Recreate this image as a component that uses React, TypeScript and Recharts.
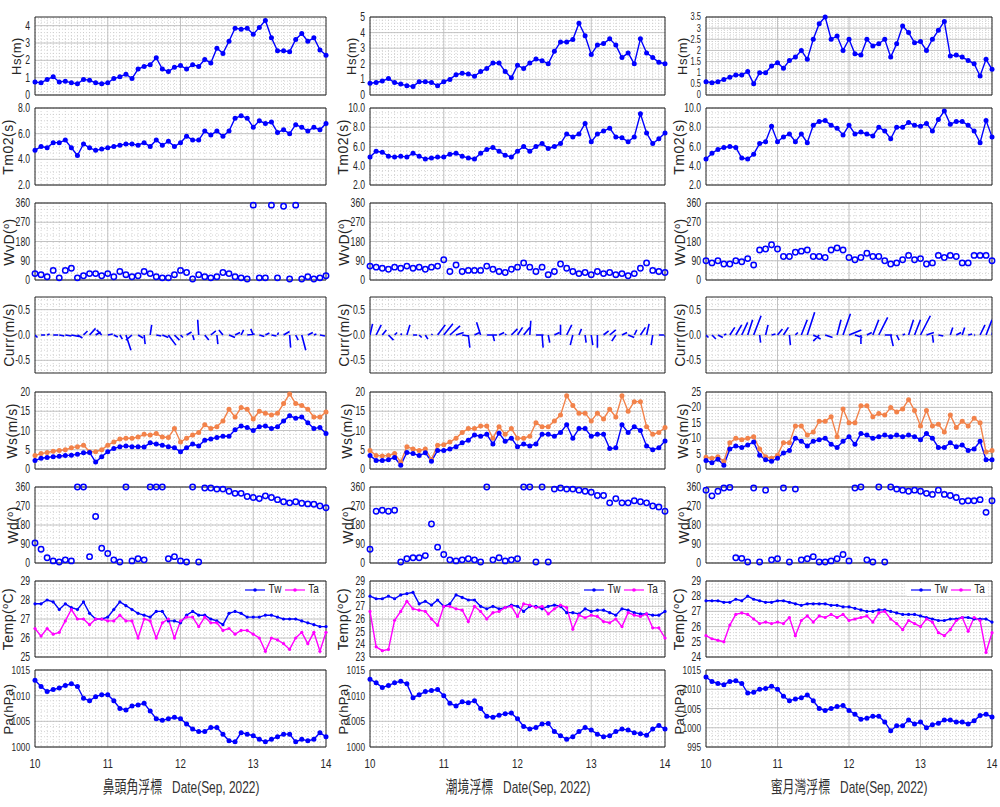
import React from 'react';
import { LineChart, Line, XAxis, YAxis, CartesianGrid, ReferenceArea } from 'recharts';

// time base: every 2 hours, 10 Sep 00:00 -> 14 Sep 00:00
const TIMES = Array.from({ length: 49 }, (_, i) => 10 + i / 12);
const DAY_TICKS = [10, 11, 12, 13, 14];

// 鼻頭角浮標
const hs1 = [0.75, 0.7, 0.9, 1.05, 0.75, 0.8, 0.7, 0.65, 0.9, 0.85, 0.7, 0.65, 0.7, 0.95, 1.05, 1.2, 0.95, 1.5, 1.65, 1.75, 2.15, 1.5, 1.35, 1.6, 1.7, 1.5, 1.75, 1.65, 2.05, 1.85, 2.7, 2.4, 3.1, 3.85, 3.8, 3.85, 3.5, 3.9, 4.3, 3.3, 2.55, 2.55, 2.5, 3.2, 3.55, 3.1, 3.3, 2.6, 2.3];
const tm1 = [4.7, 5.0, 4.9, 5.3, 5.3, 5.5, 4.9, 4.3, 5.2, 4.9, 4.7, 4.8, 4.9, 5.0, 5.1, 5.2, 5.2, 5.1, 5.3, 5.0, 5.5, 5.1, 5.4, 5.0, 5.3, 5.8, 5.5, 5.5, 6.2, 5.9, 6.2, 5.8, 6.2, 7.2, 7.4, 7.2, 6.5, 7.0, 6.8, 6.9, 6.1, 6.3, 6.0, 6.7, 6.5, 6.2, 6.5, 6.3, 6.8];
const wvd1 = [30, 25, 15, 45, 10, 45, 55, 10, 20, 30, 30, 20, 30, 15, 40, 25, 15, 20, 40, 30, 15, 10, 10, 25, 45, 35, 5, 25, 15, 10, 15, 35, 30, 15, 10, 5, 350, 10, 10, 350, 10, 345, 5, 350, 5, 15, 5, 10, 20];
const cu1 = [0.05, 0.08, 0.05, 0.1, 0.1, 0.12, 0.15, 0.1, 0.08, 0.12, 0.1, -0.1, 0.1, 0.08, 0.05, 0.1, -0.12, 0.1, 0.02, 0.03, 0.1, 0.12, 0.15, 0.1, 0.05, 0.1, 0.03, -0.02, 0.08, 0.1, 0.02, -0.08, 0.12, 0.1, 0.05, 0.15, -0.05, 0.1, 0.08, 0.1, 0.02, 0.12, 0.02, 0.05, 0.08, 0.1, 0.05, 0.1, 0.05];
const cv1 = [-0.05, 0, 0.02, 0, -0.02, -0.02, -0.03, -0.06, 0.08, 0.13, 0.06, 0.1, 0.02, -0.04, -0.08, -0.3, -0.1, -0.06, -0.18, 0.2, -0.02, -0.05, -0.2, -0.1, -0.05, 0.06, -0.1, 0.3, -0.1, 0.08, -0.18, 0.1, -0.05, 0.05, 0.1, 0.02, 0.12, -0.03, 0.04, -0.02, 0.05, 0.07, -0.25, -0.1, -0.3, 0.05, 0.02, -0.02, 0];
const ws1 = [2.2, 2.8, 3.0, 3.2, 3.3, 3.5, 3.6, 3.8, 4.2, 4.3, 1.8, 3.2, 4.5, 5.3, 5.8, 6.0, 5.8, 5.8, 5.7, 6.8, 6.5, 6.2, 5.8, 5.5, 4.5, 5.5, 6.5, 6.0, 7.5, 7.8, 8.2, 8.5, 8.5, 10.2, 11.2, 10.8, 10.0, 11.0, 11.2, 10.5, 11.0, 12.5, 13.8, 13.2, 13.5, 12.0, 10.5, 10.8, 9.2];
const wg1 = [3.5, 4.0, 4.3, 4.6, 4.8, 5.0, 5.5, 5.8, 6.2, 4.5, 4.5, 5.0, 6.2, 7.0, 7.8, 8.0, 8.0, 8.3, 9.0, 8.8, 9.2, 8.3, 8.2, 10.5, 7.0, 8.0, 8.8, 9.5, 11.5, 10.5, 11.0, 12.5, 15.5, 13.5, 16.0, 15.5, 13.0, 15.0, 14.5, 14.0, 14.5, 17.0, 19.5, 17.0, 16.5, 15.5, 13.5, 13.5, 14.8];
const wd1 = [95, 65, 25, 10, 5, 15, 10, 360, 360, 30, 220, 70, 45, 15, 5, 360, 10, 20, 15, 360, 360, 360, 20, 30, 10, 5, 360, 5, 355, 355, 350, 350, 340, 330, 330, 315, 310, 305, 318, 310, 300, 290, 285, 290, 283, 280, 278, 270, 262];
const tw1 = [27.8, 27.8, 28.0, 27.9, 27.5, 27.8, 27.6, 27.5, 27.9, 27.3, 27.0, 27.0, 27.1, 27.5, 27.9, 27.7, 27.5, 27.3, 27.2, 27.1, 27.4, 27.4, 26.9, 26.9, 26.8, 27.2, 27.4, 27.2, 27.2, 27.0, 26.9, 26.7, 27.3, 27.4, 27.3, 27.1, 27.1, 27.1, 27.2, 27.2, 27.1, 27.0, 27.0, 27.0, 26.9, 26.8, 26.7, 26.6, 26.6];
const ta1 = [26.5, 26.1, 26.5, 26.2, 26.3, 26.9, 27.5, 27.0, 27.0, 26.7, 27.0, 27.0, 26.9, 26.9, 27.2, 26.9, 26.9, 26.0, 27.0, 26.9, 26.0, 26.8, 27.0, 26.0, 26.9, 27.1, 27.1, 26.6, 27.1, 26.8, 26.8, 26.4, 26.5, 26.2, 26.4, 26.4, 26.2, 26.0, 25.3, 26.0, 25.9, 25.7, 25.4, 26.0, 26.3, 25.7, 26.3, 25.3, 26.3];
const pa1 = [1013, 1011.8, 1010.8, 1011.2, 1011.5, 1012, 1012.3, 1011.8, 1009.5, 1009, 1009.8, 1010.2, 1010.2, 1009, 1007.5, 1007.2, 1008, 1008.2, 1008.5, 1007, 1005.5, 1005.2, 1005.5, 1005.8, 1005.5, 1004.5, 1003.5, 1003, 1003, 1003.8, 1003.8, 1002.5, 1001.2, 1001, 1002.8, 1002.5, 1002.2, 1001.5, 1001, 1001.5, 1002, 1002.5, 1002.5, 1001, 1001.5, 1001.2, 1001.5, 1002.8, 1002];

// 潮境浮標
const hs2 = [0.75, 0.8, 0.9, 1.05, 0.8, 0.7, 0.6, 0.55, 0.85, 0.85, 0.8, 0.6, 0.85, 1.0, 1.3, 1.4, 1.35, 1.2, 1.5, 1.7, 2.05, 2.05, 1.5, 1.1, 1.9, 1.7, 2.05, 2.3, 2.2, 2.0, 2.8, 3.4, 3.4, 3.55, 4.6, 3.8, 2.6, 3.2, 3.3, 3.6, 3.2, 2.4, 2.7, 2.0, 3.6, 2.7, 2.4, 2.1, 2.0];
const tm2 = [4.9, 5.5, 5.4, 5.0, 4.9, 5.0, 4.9, 5.3, 5.0, 4.7, 4.8, 4.9, 4.9, 5.2, 5.3, 5.0, 4.8, 4.7, 5.3, 5.7, 5.9, 5.5, 5.1, 4.9, 5.5, 6.0, 5.5, 6.0, 6.3, 5.8, 6.0, 6.3, 7.3, 7.0, 7.3, 8.4, 6.5, 7.3, 7.6, 7.9, 7.0, 6.9, 6.5, 7.0, 9.4, 7.4, 6.3, 6.8, 7.4];
const wvd2 = [65, 60, 55, 50, 60, 55, 65, 55, 60, 50, 60, 65, 95, 40, 70, 40, 45, 45, 45, 65, 50, 40, 35, 50, 60, 80, 60, 40, 60, 25, 40, 75, 55, 40, 30, 35, 25, 40, 30, 35, 25, 30, 20, 30, 55, 80, 45, 40, 35];
const cu2 = [0.05, 0.1, 0.08, 0.1, 0.05, 0.02, 0.06, 0.08, 0.05, 0.05, 0.02, 0.15, 0.18, 0.2, 0.15, 0.12, 0.03, 0.1, -0.08, 0.2, 0.03, 0.1, 0.02, 0.12, 0.1, 0.12, 0.02, 0.15, 0.02, 0.03, 0.1, 0, 0.1, -0.05, 0.05, 0.02, 0.03, 0, 0.1, 0.12, -0.08, 0.1, 0.12, 0.05, 0.1, 0.05, -0.03, 0.1, 0.03];
const cv2 = [0.22, 0.2, 0.1, -0.1, 0.05, 0.03, 0.2, 0, -0.05, -0.08, 0.02, 0.2, 0.22, 0.18, 0.05, -0.02, -0.25, 0.05, 0.25, 0, -0.12, 0.05, 0.02, 0.12, 0.15, 0.15, 0.28, 0, -0.25, -0.15, 0.05, 0.2, 0.2, -0.2, 0.12, -0.15, -0.2, -0.25, 0.08, 0.1, -0.12, 0.05, -0.05, 0.1, 0.15, 0.22, -0.2, 0, -0.12];
const ws2 = [3.5, 2.2, 2.2, 2.4, 3.0, 1.0, 4.3, 4.0, 3.5, 4.2, 2.0, 4.8, 4.8, 5.2, 5.8, 6.8, 7.5, 8.8, 8.5, 9.0, 6.5, 9.3, 7.2, 8.0, 5.8, 6.5, 6.0, 6.5, 9.0, 9.0, 8.5, 9.5, 11.5, 8.0, 10.5, 10.5, 8.5, 9.0, 9.0, 5.3, 5.5, 11.5, 9.5, 11.0, 10.0, 6.0, 5.0, 5.5, 7.3];
const wg2 = [4.8, 3.5, 3.4, 3.5, 4.0, 1.8, 5.8, 5.2, 4.8, 5.2, 2.5, 6.2, 6.3, 7.0, 8.0, 9.5, 10.5, 10.5, 11.2, 11.2, 8.0, 11.0, 9.0, 10.5, 8.0, 8.0, 8.5, 12.0, 11.0, 11.0, 12.5, 14.0, 19.0, 16.5, 14.5, 14.5, 12.5, 14.5, 13.0, 15.5, 13.5, 19.0, 15.0, 17.5, 17.5, 11.0, 9.0, 9.5, 10.8];
const wd2 = [65, 245, 250, 245, 250, 5, 20, 25, 25, 35, 185, 75, 40, 15, 10, 15, 20, 15, 5, 360, 15, 25, 10, 15, 20, 360, 360, 5, 360, 5, 350, 355, 350, 350, 345, 340, 335, 320, 320, 285, 305, 285, 285, 295, 290, 285, 270, 265, 245];
const tw2 = [27.8, 27.6, 27.6, 27.8, 27.6, 27.9, 28.0, 28.1, 27.2, 27.4, 27.1, 27.5, 27.0, 27.2, 27.9, 27.7, 27.5, 27.5, 27.0, 26.8, 27.0, 26.8, 26.9, 27.1, 27.0, 26.6, 27.0, 27.0, 26.8, 27.0, 27.1, 27.0, 26.5, 26.5, 26.4, 26.8, 26.6, 26.7, 26.7, 26.5, 26.3, 26.8, 26.7, 26.5, 26.4, 26.4, 26.3, 26.3, 26.6];
const ta2 = [26.6, 23.8, 23.5, 23.6, 25.9, 26.6, 27.4, 26.8, 26.7, 26.6, 26.0, 25.5, 27.0, 27.0, 26.8, 26.7, 25.8, 27.0, 26.6, 26.0, 26.5, 26.6, 26.9, 27.0, 26.2, 27.2, 27.1, 26.9, 27.0, 26.4, 26.8, 27.1, 26.9, 25.2, 26.3, 26.1, 26.3, 26.2, 25.8, 25.7, 26.0, 25.4, 26.5, 26.3, 26.2, 26.4, 25.3, 25.3, 24.5];
const pa2 = [1013.2, 1012.5, 1011.6, 1012, 1012.5, 1012.8, 1012.3, 1009.6, 1010.2, 1010.8, 1011, 1011.2, 1010, 1008.5, 1008, 1008.8, 1008.6, 1009, 1007.5, 1006, 1005.8, 1006.2, 1006.5, 1006.6, 1005.5, 1004, 1003.5, 1003.8, 1004.5, 1004.6, 1003, 1002.2, 1001.5, 1002, 1003, 1003.8, 1003.3, 1002.5, 1002, 1002.2, 1003, 1003.5, 1003.3, 1002.8, 1002.6, 1002.3, 1003.5, 1004.2, 1003.5];

// 蜜月灣浮標
const hs3 = [0.6, 0.55, 0.6, 0.7, 0.8, 0.9, 0.9, 1.05, 0.5, 1.0, 1.0, 1.3, 1.45, 1.2, 1.55, 1.7, 2.0, 1.6, 2.5, 3.2, 3.5, 2.5, 2.65, 2.0, 2.5, 1.85, 1.8, 2.5, 2.2, 2.3, 2.5, 1.7, 2.3, 3.1, 2.8, 2.35, 2.4, 2.0, 2.5, 2.9, 3.3, 1.75, 1.8, 1.7, 1.55, 1.4, 0.85, 1.6, 1.15];
const tm3 = [4.7, 5.3, 5.7, 5.9, 6.0, 5.9, 4.8, 4.7, 5.2, 6.3, 6.5, 8.1, 6.5, 7.0, 7.3, 6.5, 7.3, 6.4, 8.2, 8.6, 8.7, 8.2, 7.9, 7.2, 8.2, 7.3, 7.5, 7.3, 7.1, 8.0, 7.6, 6.8, 8.0, 8.0, 8.5, 8.2, 8.1, 8.4, 7.6, 8.8, 9.7, 8.3, 8.6, 8.6, 8.2, 7.6, 6.4, 8.7, 7.0];
const wvd3 = [90, 80, 90, 75, 75, 90, 85, 100, 70, 140, 145, 165, 145, 110, 110, 130, 135, 140, 110, 110, 105, 140, 150, 140, 105, 95, 105, 125, 110, 110, 90, 75, 80, 95, 115, 95, 100, 75, 80, 115, 105, 115, 110, 80, 80, 115, 115, 115, 90];
const cu3 = [0.05, 0.08, 0.1, 0.05, 0.1, 0.12, 0.12, 0.1, 0.15, 0.02, 0.05, 0.08, 0.1, 0.1, 0.02, 0.05, 0.12, 0.15, 0.15, -0.12, 0.15, 0, 0.08, 0.15, 0.25, 0.15, 0, 0.1, 0.12, 0.18, 0.15, 0.05, 0.05, 0.05, 0.1, 0.12, 0.2, 0.15, 0.02, 0.1, 0, 0.05, 0.1, 0.05, 0.08, 0.02, 0.1, 0.12, 0.08];
const cv3 = [-0.05, -0.08, -0.05, 0.02, 0.15, 0.2, 0.25, 0.3, 0.38, -0.15, 0.2, 0.02, 0.12, 0.15, -0.2, 0.05, 0.3, 0.45, -0.08, -0.12, -0.05, 0, 0.3, 0.42, 0.1, -0.05, -0.18, 0.05, 0.3, 0.35, 0, -0.22, -0.1, 0.02, 0.3, 0.3, 0.38, 0.05, -0.15, -0.02, 0, 0.15, 0.05, 0.15, 0.02, 0, 0.2, 0.3, 0.35];
const ws3 = [2.8, 2.0, 3.2, 1.2, 6.5, 7.5, 7.0, 7.8, 8.8, 4.5, 3.0, 2.5, 3.5, 5.2, 6.0, 10.0, 9.0, 7.5, 9.0, 9.5, 10.0, 8.0, 7.0, 9.0, 10.5, 8.0, 11.5, 11.0, 10.0, 10.5, 11.0, 10.5, 11.0, 10.5, 11.0, 10.5, 9.5, 11.5, 10.0, 7.0, 7.0, 8.5, 7.2, 7.8, 6.0, 6.5, 9.0, 3.0, 3.0];
const wg3 = [3.8, 3.5, 4.0, 2.5, 8.5, 10.0, 9.5, 10.0, 10.5, 6.5, 4.0, 3.5, 4.5, 8.5, 8.5, 14.0, 14.0, 11.0, 12.0, 15.5, 15.5, 17.0, 10.5, 19.5, 15.0, 15.0, 20.5, 20.5, 17.0, 18.0, 17.5, 20.0, 18.5, 19.5, 22.5, 19.0, 14.0, 19.0, 14.0, 14.5, 12.0, 17.5, 13.5, 15.5, 14.0, 16.5, 15.0, 5.5, 6.0];
const wd3 = [345, 318, 340, 355, 358, 25, 22, 5, 355, 5, 345, 15, 20, 355, 5, 350, 15, 20, 30, 5, 5, 10, 20, 40, 10, 355, 360, 15, 5, 360, 5, 360, 350, 345, 340, 345, 340, 330, 325, 345, 325, 320, 310, 292, 295, 295, 300, 240, 295];
const tw3 = [27.7, 27.7, 27.7, 27.6, 27.6, 27.8, 27.7, 28.0, 27.8, 27.7, 27.6, 27.6, 27.7, 27.7, 27.6, 27.5, 27.4, 27.5, 27.5, 27.5, 27.5, 27.4, 27.4, 27.3, 27.3, 27.2, 27.1, 27.0, 27.0, 27.1, 27.1, 27.0, 26.9, 26.8, 26.8, 26.8, 26.7, 26.6, 26.5, 26.4, 26.4, 26.5, 26.5, 26.6, 26.6, 26.5, 26.5, 26.5, 26.3];
const ta3 = [25.4, 25.2, 25.1, 25.0, 26.1, 26.8, 26.9, 26.8, 26.5, 26.2, 26.3, 26.2, 26.3, 26.2, 26.6, 25.4, 26.4, 26.7, 26.3, 26.7, 26.6, 26.8, 26.6, 26.8, 26.4, 26.5, 26.6, 26.7, 26.3, 26.9, 27.0, 26.5, 26.2, 25.8, 26.4, 26.2, 26.0, 26.5, 26.3, 25.6, 25.4, 25.8, 26.4, 26.6, 25.7, 26.6, 26.4, 24.3, 25.6];
const pa3 = [1013.2, 1012, 1011.5, 1011.2, 1012, 1012.2, 1011.5, 1009, 1009.2, 1010, 1010.2, 1010.8, 1010, 1008.2, 1007, 1007.5, 1007.8, 1008.5, 1007, 1005, 1004.5, 1005, 1005.5, 1005.8, 1004.5, 1003.5, 1002.2, 1002.5, 1003, 1003, 1001.5, 999.2, 1000.5, 1000.5, 1002, 1001, 1001.5, 1000, 1000.8, 1001.2, 1002, 1002, 1001.5, 1001.5, 1001, 1001.8, 1003.2, 1003.5, 1002.8];

const BLUE = '#0000ff';
const ORANGE = '#f2824a';
const MAGENTA = '#ff00ff';
const INK = '#262626';
const SANS = '"Liberation Sans", Arial, "Noto Sans CJK TC", sans-serif';

const ROW_TOP = [17, 108, 203, 297, 392, 487, 581, 670];
const ROW_BOT = [95, 185, 280, 373, 469, 563, 657, 747];
const LABEL_OFF = [19, 27, 26, 26, 23, 22, 27, 27];
const LABEL_SIZE = [13, 14, 14, 14, 14, 14, 14, 13];
const YW = 36;
const MT = 9;
const MR = 12;
const MB = 9;
const XH = 26;
const STICK_SCALE = 0.69; // days per m/s, so sticks keep their angle

const MINOR_X = TIMES;

function multiples(lo: number, hi: number, step: number) {
  const out: number[] = [];
  for (let v = Math.ceil(lo / step - 1e-9) * step; v <= hi + 1e-9; v += step) out.push(Math.round(v * 1e6) / 1e6);
  return out;
}

function rowsOf(series: Record<string, number[]>) {
  return TIMES.map((t, i) => {
    const r: any = { t };
    Object.keys(series).forEach((k) => (r[k] = series[k][i]));
    return r;
  });
}

function sticks(u: number[], v: number[]) {
  const out: any[] = [];
  TIMES.forEach((t, i) => {
    out.push({ t, c: 0 });
    out.push({ t: t + u[i] * STICK_SCALE, c: v[i] });
    out.push({ t, c: null });
  });
  return out;
}

// condensed tick text, like the squeezed labels of the original
const yTick = (fmt: (v: number) => string, size: number) => (props: any) => {
  const { x, y, payload } = props;
  return (
    <text transform={`translate(${x},${y}) scale(0.72,1)`} textAnchor="end" dominantBaseline="central"
      fontSize={size} fill={INK} fontFamily={SANS}>{fmt(payload.value)}</text>
  );
};

const xTick = (props: any) => {
  const { x, y, payload } = props;
  return (
    <text transform={`translate(${x},${y}) scale(0.78,1)`} textAnchor="middle" dy="0.75em"
      fontSize={12.5} fill={INK} fontFamily={SANS}>{String(payload.value)}</text>
  );
};

type Mark = { key: string; color: string; kind: 'dot' | 'ring' | 'small' | 'stick' };

function renderMark(m: Mark) {
  if (m.kind === 'ring') {
    return (
      <Line key={m.key} dataKey={m.key} stroke="none" isAnimationActive={false} activeDot={false}
        dot={{ r: 2.7, fill: 'none', stroke: m.color, strokeWidth: 1.5 }} />
    );
  }
  if (m.kind === 'stick') {
    return (
      <Line key={m.key} dataKey={m.key} stroke={m.color} strokeWidth={1.6} dot={false} activeDot={false}
        connectNulls={false} isAnimationActive={false} />
    );
  }
  const r = m.kind === 'small' ? 1.6 : 2.5;
  return (
    <Line key={m.key} dataKey={m.key} stroke={m.color} strokeWidth={1.4} isAnimationActive={false} activeDot={false}
      dot={{ r, fill: m.color, stroke: m.color, strokeWidth: 0 }} />
  );
}

const Sup = ({ children }: { children: React.ReactNode }) => (
  <span style={{ fontSize: '0.62em', position: 'relative', top: '-0.6em' }}>{children}</span>
);

function Panel(p: {
  x0: number; x1: number; row: number; rows: any[]; marks: Mark[];
  domain: [number, number]; ticks: number[]; minorStep: number;
  fmt?: (v: number) => string; showX?: boolean; clip?: boolean;
  label: React.ReactNode; labelOff?: number; tickFont?: number;
}) {
  const y0 = ROW_TOP[p.row];
  const y1 = ROW_BOT[p.row];
  const pw = p.x1 - p.x0;
  const ph = y1 - y0;
  const xh = p.showX ? XH : 0;
  const w = YW + pw + MR;
  const h = MT + ph + xh + MB;
  const minor = multiples(p.domain[0], p.domain[1], p.minorStep);
  const fmt = p.fmt ?? ((v: number) => String(v));
  return (
    <>
      <div style={{ position: 'absolute', left: p.x0 - YW, top: y0 - MT }}>
        <LineChart width={w} height={h} data={p.rows} margin={{ top: MT, right: MR, bottom: MB, left: 0 }}>
          <CartesianGrid verticalValues={MINOR_X} horizontalValues={minor} stroke="#c9c9c9" strokeDasharray="1 2" strokeWidth={0.8} />
          <CartesianGrid verticalValues={[11, 12, 13]} horizontalValues={p.ticks} stroke="#bdbdbd" strokeWidth={0.9} />
          <XAxis dataKey="t" type="number" domain={[10, 14]} ticks={DAY_TICKS} interval={0}
            allowDataOverflow={!!p.clip} hide={!p.showX} height={xh}
            axisLine={false} tickLine={false} tickSize={3} tickMargin={9} tick={xTick} />
          <YAxis type="number" domain={p.domain} ticks={p.ticks} interval={0} width={YW}
            allowDataOverflow={!!p.clip}
            axisLine={false} tickLine={false} tickSize={3} tickMargin={2} tick={yTick(fmt, p.tickFont ?? 12)} />
          {p.marks.map(renderMark)}
          <ReferenceArea x1={10} x2={14} y1={p.domain[0]} y2={p.domain[1]} fill="none" stroke={INK} strokeWidth={1} ifOverflow="visible" />
        </LineChart>
      </div>
      <div style={{
        position: 'absolute', left: p.x0 - (p.labelOff ?? LABEL_OFF[p.row]), top: (y0 + y1) / 2,
        transform: 'translate(-50%, -50%) rotate(-90deg)', whiteSpace: 'nowrap',
        fontFamily: SANS, fontSize: LABEL_SIZE[p.row], letterSpacing: 0.5, color: INK, lineHeight: 1,
      }}>{p.label}</div>
    </>
  );
}

function TempLegend({ right, top }: { right: number; top: number }) {
  const item = (color: string, text: string) => (
    <span style={{ display: 'inline-flex', alignItems: 'center', marginLeft: 2 }}>
      <svg width={20} height={8}>
        <line x1={0} y1={4} x2={20} y2={4} stroke={color} strokeWidth={1.2} />
        <circle cx={10} cy={4} r={1.8} fill={color} />
      </svg>
      <span style={{ marginLeft: 2, display: 'inline-block', transform: 'scaleX(0.8)' }}>{text}</span>
    </span>
  );
  return (
    <div style={{
      position: 'absolute', right: 1000 - right, top, display: 'flex', alignItems: 'center',
      fontSize: 12.5, fontFamily: SANS, color: INK, background: '#fff', lineHeight: '13px', padding: '0 2px',
    }}>
      {item(BLUE, 'Tw')}
      {item(MAGENTA, 'Ta')}
    </div>
  );
}

function Station(p: {
  x0: number; x1: number; name: string;
  hs: number[]; hsDomain: [number, number]; hsTicks: number[]; hsMinor: number; hsFont?: number; hsOff?: number;
  tm: number[]; tmDomain: [number, number]; tmTicks: number[];
  wvd: number[]; cu: number[]; cv: number[];
  ws: number[]; wg: number[]; wsDomain: [number, number]; wsTicks: number[];
  wd: number[];
  tw: number[]; ta: number[]; tDomain: [number, number]; tTicks: number[];
  pa: number[]; paDomain: [number, number]; paTicks: number[];
}) {
  const { x0, x1 } = p;
  const deg = [0, 90, 180, 270, 360];
  const one = (v: number) => v.toFixed(1);
  return (
    <>
      <Panel x0={x0} x1={x1} row={0} rows={rowsOf({ hs: p.hs })} marks={[{ key: 'hs', color: BLUE, kind: 'dot' }]}
        domain={p.hsDomain} ticks={p.hsTicks} minorStep={p.hsMinor} label="Hs(m)"
        tickFont={p.hsFont} labelOff={p.hsOff} />
      <Panel x0={x0} x1={x1} row={1} rows={rowsOf({ tm: p.tm })} marks={[{ key: 'tm', color: BLUE, kind: 'dot' }]}
        domain={p.tmDomain} ticks={p.tmTicks} minorStep={0.5} fmt={one} label="Tm02(s)" />
      <Panel x0={x0} x1={x1} row={2} rows={rowsOf({ wvd: p.wvd })} marks={[{ key: 'wvd', color: BLUE, kind: 'ring' }]}
        domain={[0, 360]} ticks={deg} minorStep={30} label={<>WvD(<Sup>o</Sup>)</>} />
      <Panel x0={x0} x1={x1} row={3} rows={sticks(p.cu, p.cv)} marks={[{ key: 'c', color: BLUE, kind: 'stick' }]}
        domain={[-0.75, 0.75]} ticks={[-0.5, 0, 0.5]} minorStep={0.1} fmt={one} clip label="Curr(m/s)" />
      <Panel x0={x0} x1={x1} row={4} rows={rowsOf({ wg: p.wg, ws: p.ws })}
        marks={[{ key: 'wg', color: ORANGE, kind: 'dot' }, { key: 'ws', color: BLUE, kind: 'dot' }]}
        domain={p.wsDomain} ticks={p.wsTicks} minorStep={1} label="Ws(m/s)" />
      <Panel x0={x0} x1={x1} row={5} rows={rowsOf({ wd: p.wd })} marks={[{ key: 'wd', color: BLUE, kind: 'ring' }]}
        domain={[0, 360]} ticks={deg} minorStep={30} label={<>Wd(<Sup>o</Sup>)</>} />
      <Panel x0={x0} x1={x1} row={6} rows={rowsOf({ tw: p.tw, ta: p.ta })}
        marks={[{ key: 'tw', color: BLUE, kind: 'small' }, { key: 'ta', color: MAGENTA, kind: 'small' }]}
        domain={p.tDomain} ticks={p.tTicks} minorStep={0.2} label={<>Temp(<Sup>o</Sup>C)</>} />
      <TempLegend right={x1 - 4} top={ROW_TOP[6] + 2} />
      <Panel x0={x0} x1={x1} row={7} rows={rowsOf({ pa: p.pa })} marks={[{ key: 'pa', color: BLUE, kind: 'dot' }]}
        domain={p.paDomain} ticks={p.paTicks} minorStep={1} showX label="Pa(hPa)" tickFont={11.5} />
      <div style={{
        position: 'absolute', left: (x0 + x1) / 2, top: 787, transform: 'translate(-50%, -50%) scaleX(0.7)',
        whiteSpace: 'pre', fontFamily: SANS, fontSize: 17, color: '#333', lineHeight: 1,
      }}>{`${p.name}   Date(Sep, 2022)`}</div>
    </>
  );
}

export default function App() {
  return (
    <div style={{ position: 'absolute', left: 0, top: 0, width: 1000, height: 807, background: '#fff', overflow: 'hidden' }}>
      <Station x0={35} x1={326} name="鼻頭角浮標"
        hs={hs1} hsDomain={[0, 4.5]} hsTicks={[0, 1, 2, 3, 4]} hsMinor={0.2}
        tm={tm1} tmDomain={[2, 8]} tmTicks={[2, 4, 6, 8]}
        wvd={wvd1} cu={cu1} cv={cv1}
        ws={ws1} wg={wg1} wsDomain={[0, 20]} wsTicks={[0, 5, 10, 15, 20]}
        wd={wd1}
        tw={tw1} ta={ta1} tDomain={[25, 29]} tTicks={[25, 26, 27, 28, 29]}
        pa={pa1} paDomain={[1000, 1015]} paTicks={[1000, 1005, 1010, 1015]} />
      <Station x0={370} x1={665} name="潮境浮標"
        hs={hs2} hsDomain={[0, 5]} hsTicks={[0, 1, 2, 3, 4, 5]} hsMinor={0.2}
        tm={tm2} tmDomain={[2, 10]} tmTicks={[2, 4, 6, 8, 10]}
        wvd={wvd2} cu={cu2} cv={cv2}
        ws={ws2} wg={wg2} wsDomain={[0, 20]} wsTicks={[0, 5, 10, 15, 20]}
        wd={wd2}
        tw={tw2} ta={ta2} tDomain={[23, 29]} tTicks={[23, 24, 25, 26, 27, 28, 29]}
        pa={pa2} paDomain={[1000, 1015]} paTicks={[1000, 1005, 1010, 1015]} />
      <Station x0={706} x1={992} name="蜜月灣浮標"
        hs={hs3} hsDomain={[0, 3.5]} hsTicks={[0, 0.5, 1, 1.5, 2, 2.5, 3, 3.5]} hsMinor={0.1} hsFont={10.5} hsOff={24}
        tm={tm3} tmDomain={[2, 10]} tmTicks={[2, 4, 6, 8, 10]}
        wvd={wvd3} cu={cu3} cv={cv3}
        ws={ws3} wg={wg3} wsDomain={[0, 25]} wsTicks={[0, 5, 10, 15, 20, 25]}
        wd={wd3}
        tw={tw3} ta={ta3} tDomain={[24, 29]} tTicks={[24, 25, 26, 27, 28, 29]}
        pa={pa3} paDomain={[995, 1015]} paTicks={[995, 1000, 1005, 1010, 1015]} />
    </div>
  );
}
